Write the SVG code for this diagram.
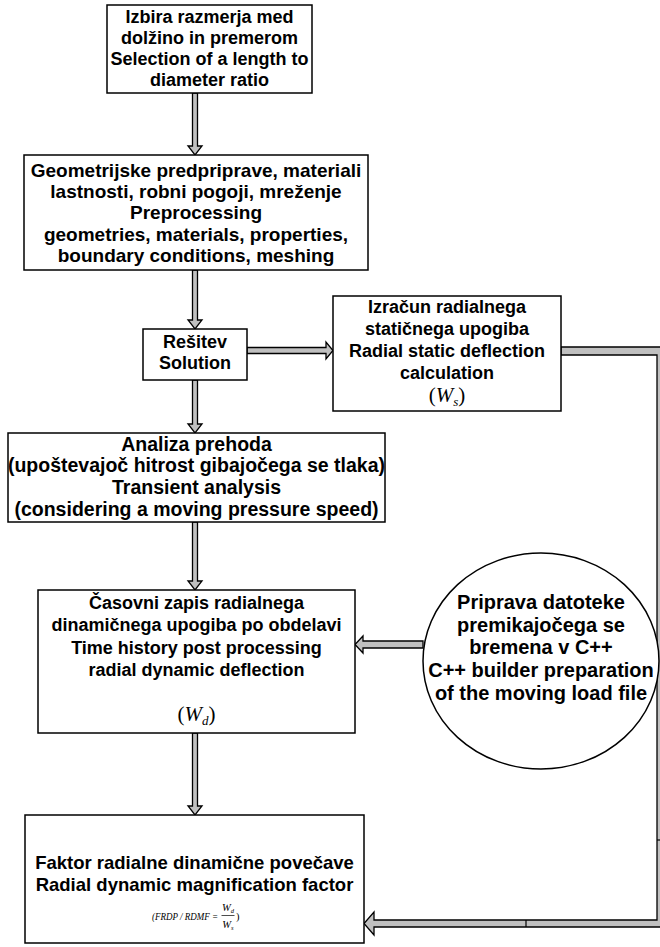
<svg xmlns="http://www.w3.org/2000/svg" width="660" height="947" viewBox="0 0 660 947">
<style>
.box{fill:#fff;stroke:#000;stroke-width:1.5}
.t{font-family:"Liberation Sans",Arial,sans-serif;font-weight:bold;font-size:18px;text-anchor:middle;fill:#000}
.t.s19{font-size:19px}
.t.s195{font-size:19.5px}
.t.s20{font-size:20px}
.t.s185{font-size:18.5px}
.m{font-family:"Liberation Serif","Times New Roman",serif;fill:#000}
.c{fill:#c0c0c0;stroke:#000;stroke-width:1.3;stroke-linejoin:miter}
</style>
<rect width="660" height="947" fill="#fff"/>
<g id="connectors">
<path class="c" d="M192.5,93 V146 H188 L195,155 L202,146 H197.5 V93 Z"/>
<path class="c" d="M192.5,270 V320 H188 L195,329 L202,320 H197.5 V270 Z"/>
<path class="c" d="M247,347.5 H326 V342 L333,350.5 L326,359 V353.5 H247 Z"/>
<path class="c" d="M192.5,380 V424 H188 L195,433 L202,424 H197.5 V380 Z"/>
<path class="c" d="M192.5,522 V581 H188 L195,590 L202,581 H197.5 V522 Z"/>
<path class="c" d="M192.5,733 V806 H188 L195,815 L202,806 H197.5 V733 Z"/>
<path class="c" d="M423,641 H363 V636 L355,644.5 L363,653 V648 H423 Z"/>
<path class="c" d="M561,347 H665 V927 H374 V935 L364,923.5 L374,912 V920 H657 V355 H561 Z"/>
<line x1="526" y1="920" x2="526" y2="927" stroke="#000" stroke-width="1.2"/>
<line x1="657" y1="840" x2="660" y2="840" stroke="#000" stroke-width="1.2"/>
</g>
<g id="n1">
<rect class="box" x="107" y="5" width="205" height="88"/>
<text class="t" x="209.5" y="22.5">Izbira razmerja med</text>
<text class="t" x="209.5" y="43.5">dolžino in premerom</text>
<text class="t" x="209.5" y="65">Selection of a length to</text>
<text class="t" x="209.5" y="86">diameter ratio</text>
</g>
<g id="n2">
<rect class="box" x="24" y="155" width="344" height="115"/>
<text class="t s19" x="196" y="176.5">Geometrijske predpriprave, materiali</text>
<text class="t s19" x="196" y="197.5">lastnosti, robni pogoji, mreženje</text>
<text class="t s19" x="196" y="219">Preprocessing</text>
<text class="t s19" x="196" y="240.5">geometries, materials, properties,</text>
<text class="t s19" x="196" y="262">boundary conditions, meshing</text>
</g>
<g id="n3">
<rect class="box" x="143" y="329" width="104" height="51"/>
<text class="t" x="195" y="347.5">Rešitev</text>
<text class="t" x="195" y="368.5">Solution</text>
</g>
<g id="n4">
<rect class="box" x="333" y="296" width="228" height="115"/>
<text class="t" x="447" y="313">Izračun radialnega</text>
<text class="t" x="447" y="335">statičnega upogiba</text>
<text class="t" x="447" y="357">Radial static deflection</text>
<text class="t" x="447" y="379">calculation</text>
<text class="m" x="447" y="402" font-size="21" text-anchor="middle">(<tspan font-style="italic">W</tspan><tspan font-style="italic" font-size="13" dy="4">s</tspan><tspan dy="-4">)</tspan></text>
</g>
<g id="n5">
<rect class="box" x="8" y="433" width="377" height="89"/>
<text class="t s195" x="196.5" y="450.5">Analiza prehoda</text>
<text class="t s195" x="196.5" y="472">(upoštevajoč hitrost gibajočega se tlaka)</text>
<text class="t s195" x="196.5" y="494">Transient analysis</text>
<text class="t s195" x="196.5" y="515.5">(considering a moving pressure speed)</text>
</g>
<g id="n6">
<rect class="box" x="38" y="590" width="317" height="143"/>
<text class="t" x="196.5" y="608.5">Časovni zapis radialnega</text>
<text class="t" x="196.5" y="631">dinamičnega upogiba po obdelavi</text>
<text class="t" x="196.5" y="653.5">Time history post processing</text>
<text class="t" x="196.5" y="676">radial dynamic deflection</text>
<text class="m" x="196.5" y="721" font-size="21" text-anchor="middle">(<tspan font-style="italic">W</tspan><tspan font-style="italic" font-size="13" dy="4">d</tspan><tspan dy="-4">)</tspan></text>
</g>
<g id="n7">
<ellipse class="box" cx="541" cy="661" rx="118" ry="108"/>
<text class="t s20" x="541" y="609">Priprava datoteke</text>
<text class="t s20" x="541" y="631.5">premikajočega se</text>
<text class="t s20" x="541" y="654">bremena v C++</text>
<text class="t s20" x="541" y="677">C++ builder preparation</text>
<text class="t s20" x="541" y="700">of the moving load file</text>
</g>
<g id="n8">
<rect class="box" x="25" y="815" width="339" height="128"/>
<text class="t s185" x="194.5" y="868.5">Faktor radialne dinamične povečave</text>
<text class="t s185" x="194.5" y="890.5">Radial dynamic magnification factor</text>
<text class="m" x="152" y="920" font-size="10" font-style="italic" textLength="66" lengthAdjust="spacingAndGlyphs">(FRDP / RDMF =</text>
<text class="m" x="228" y="911" font-size="10.5" font-style="italic" text-anchor="middle">W<tspan font-size="6.5" dy="2">d</tspan></text>
<line x1="221.5" y1="915.5" x2="234.5" y2="915.5" stroke="#000" stroke-width="0.7"/>
<text class="m" x="228" y="928" font-size="10.5" font-style="italic" text-anchor="middle">W<tspan font-size="6.5" dy="2">s</tspan></text>
<text class="m" x="236" y="920" font-size="10.5">)</text>
</g>
</svg>
